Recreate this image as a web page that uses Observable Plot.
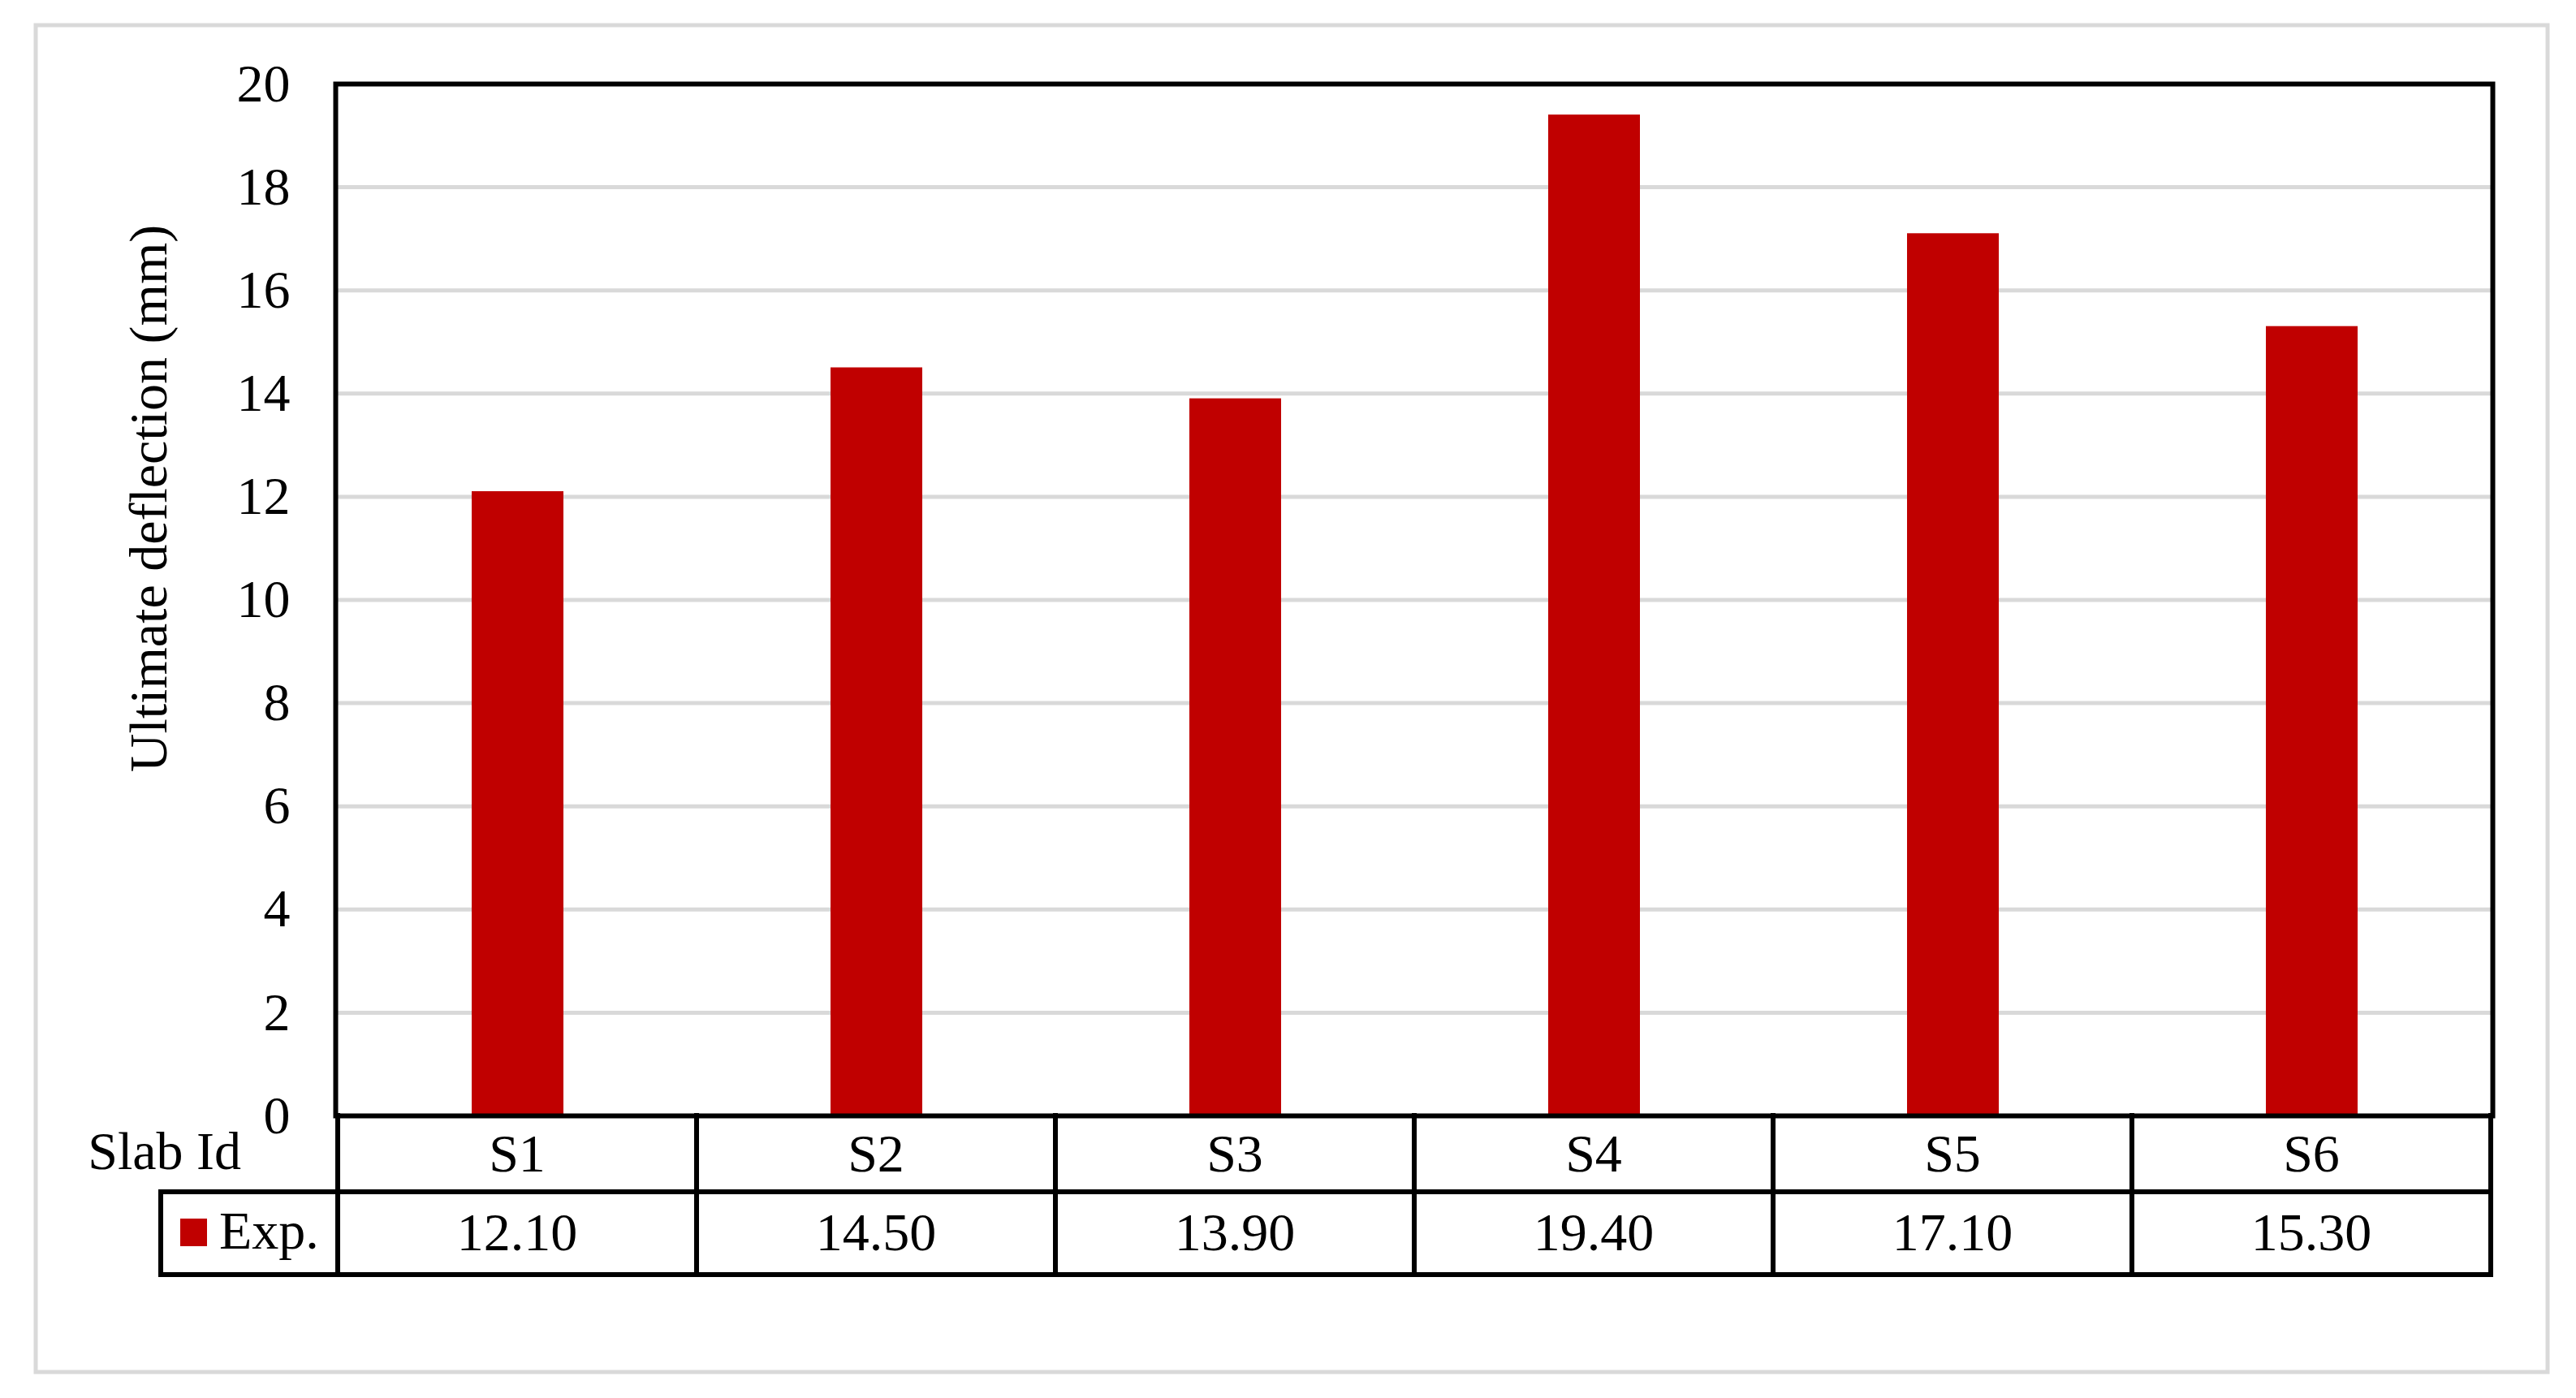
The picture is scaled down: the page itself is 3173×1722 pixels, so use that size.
<!DOCTYPE html>
<html>
<head>
<meta charset="utf-8">
<script src="https://cdn.jsdelivr.net/npm/d3@7"></script>
<script src="https://cdn.jsdelivr.net/npm/@observablehq/plot@0.6"></script>
<style>
  html, body { margin: 0; padding: 0; background: white; }
  #chart svg { display: block; }
</style>
</head>
<body>
<div id="chart"></div>
<script>
// ---- data ----
const slabIds = ["S1", "S2", "S3", "S4", "S5", "S6"];
const expDeflection = [12.10, 14.50, 13.90, 19.40, 17.10, 15.30];
const yTicks = [0, 2, 4, 6, 8, 10, 12, 14, 16, 18, 20];
const seriesName = "Exp.";
const rowHeader = "Slab Id";
const yTitle = "Ultimate deflection (mm)";

const barColor = "#c00000";
const font = "'Liberation Serif', 'Times New Roman', serif";
const fs = 66;

const data = slabIds.map((id, i) => ({id, value: expDeflection[i]}));

const plot = Plot.plot({
  width: 3173,
  height: 1722,
  marginLeft: 413,
  marginRight: 103,
  marginTop: 103,
  marginBottom: 348,
  style: {fontFamily: font, fontSize: fs + "px", background: "white", color: "black", overflow: "visible"},
  x: {domain: slabIds, padding: 0, axis: null},
  y: {domain: [0, 20], axis: null},
  marks: [
    Plot.gridY(yTicks, {stroke: "#d9d9d9", strokeWidth: 5, strokeOpacity: 1}),
    Plot.barY(data, {x: "id", y: "value", fill: barColor, insetLeft: 165, insetRight: 164}),
    Plot.axisY(yTicks, {tickSize: 0, tickPadding: 56, fontSize: fs, fontFamily: font, fill: "black", label: null, tickFormat: d => String(d)}),
    Plot.frame({stroke: "black", strokeWidth: 6})
  ]
});

document.getElementById("chart").appendChild(plot);

// ---- data table under the plot, positioned with Plot's own scales ----
const svg = d3.select(plot);
const sx = plot.scale("x");
const sy = plot.scale("y");
const bw = sx.bandwidth;
const y0 = sy.apply(0);
const row1 = y0 + 94;
const row2 = y0 + 196;
const xLeft = sx.apply(slabIds[0]);
const xRight = sx.apply(slabIds[slabIds.length - 1]) + bw;
const legendLeft = 198;

// outer chart-area border
svg.insert("rect", ":first-child")
  .attr("x", 44).attr("y", 31).attr("width", 3094).attr("height", 1659)
  .attr("fill", "none").attr("stroke", "#d9d9d9").attr("stroke-width", 5);

const g = svg.append("g").attr("stroke", "black").attr("stroke-width", 6).attr("stroke-linecap", "square");
// horizontal lines
g.append("line").attr("x1", legendLeft).attr("x2", xRight).attr("y1", row1).attr("y2", row1);
g.append("line").attr("x1", legendLeft).attr("x2", xRight).attr("y1", row2).attr("y2", row2);
// vertical lines at cell boundaries
const bounds = slabIds.map(d => sx.apply(d)).concat([xRight]);
bounds.forEach(x => {
  g.append("line").attr("x1", x).attr("x2", x).attr("y1", y0).attr("y2", row2);
});
g.append("line").attr("x1", legendLeft).attr("x2", legendLeft).attr("y1", row1).attr("y2", row2);

const t = svg.append("g").attr("font-family", font).attr("font-size", fs).attr("fill", "black");
slabIds.forEach((id, i) => {
  const cx = sx.apply(id) + bw / 2;
  t.append("text").attr("x", cx).attr("y", y0 + 69).attr("text-anchor", "middle").text(id);
  t.append("text").attr("x", cx).attr("y", y0 + 166).attr("text-anchor", "middle").text(expDeflection[i].toFixed(2));
});
t.append("text").attr("x", 297).attr("y", y0 + 66).attr("text-anchor", "end").text(rowHeader);
// legend key
svg.append("rect").attr("x", 222).attr("y", row1 + 33).attr("width", 33).attr("height", 34).attr("fill", barColor);
t.append("text").attr("x", 270).attr("y", y0 + 164).attr("text-anchor", "start").text(seriesName);

// y-axis title
t.append("text")
  .attr("transform", `translate(182, 614) rotate(-90)`)
  .attr("text-anchor", "middle")
  .attr("dy", "0.35em")
  .text(yTitle);
</script>
</body>
</html>
